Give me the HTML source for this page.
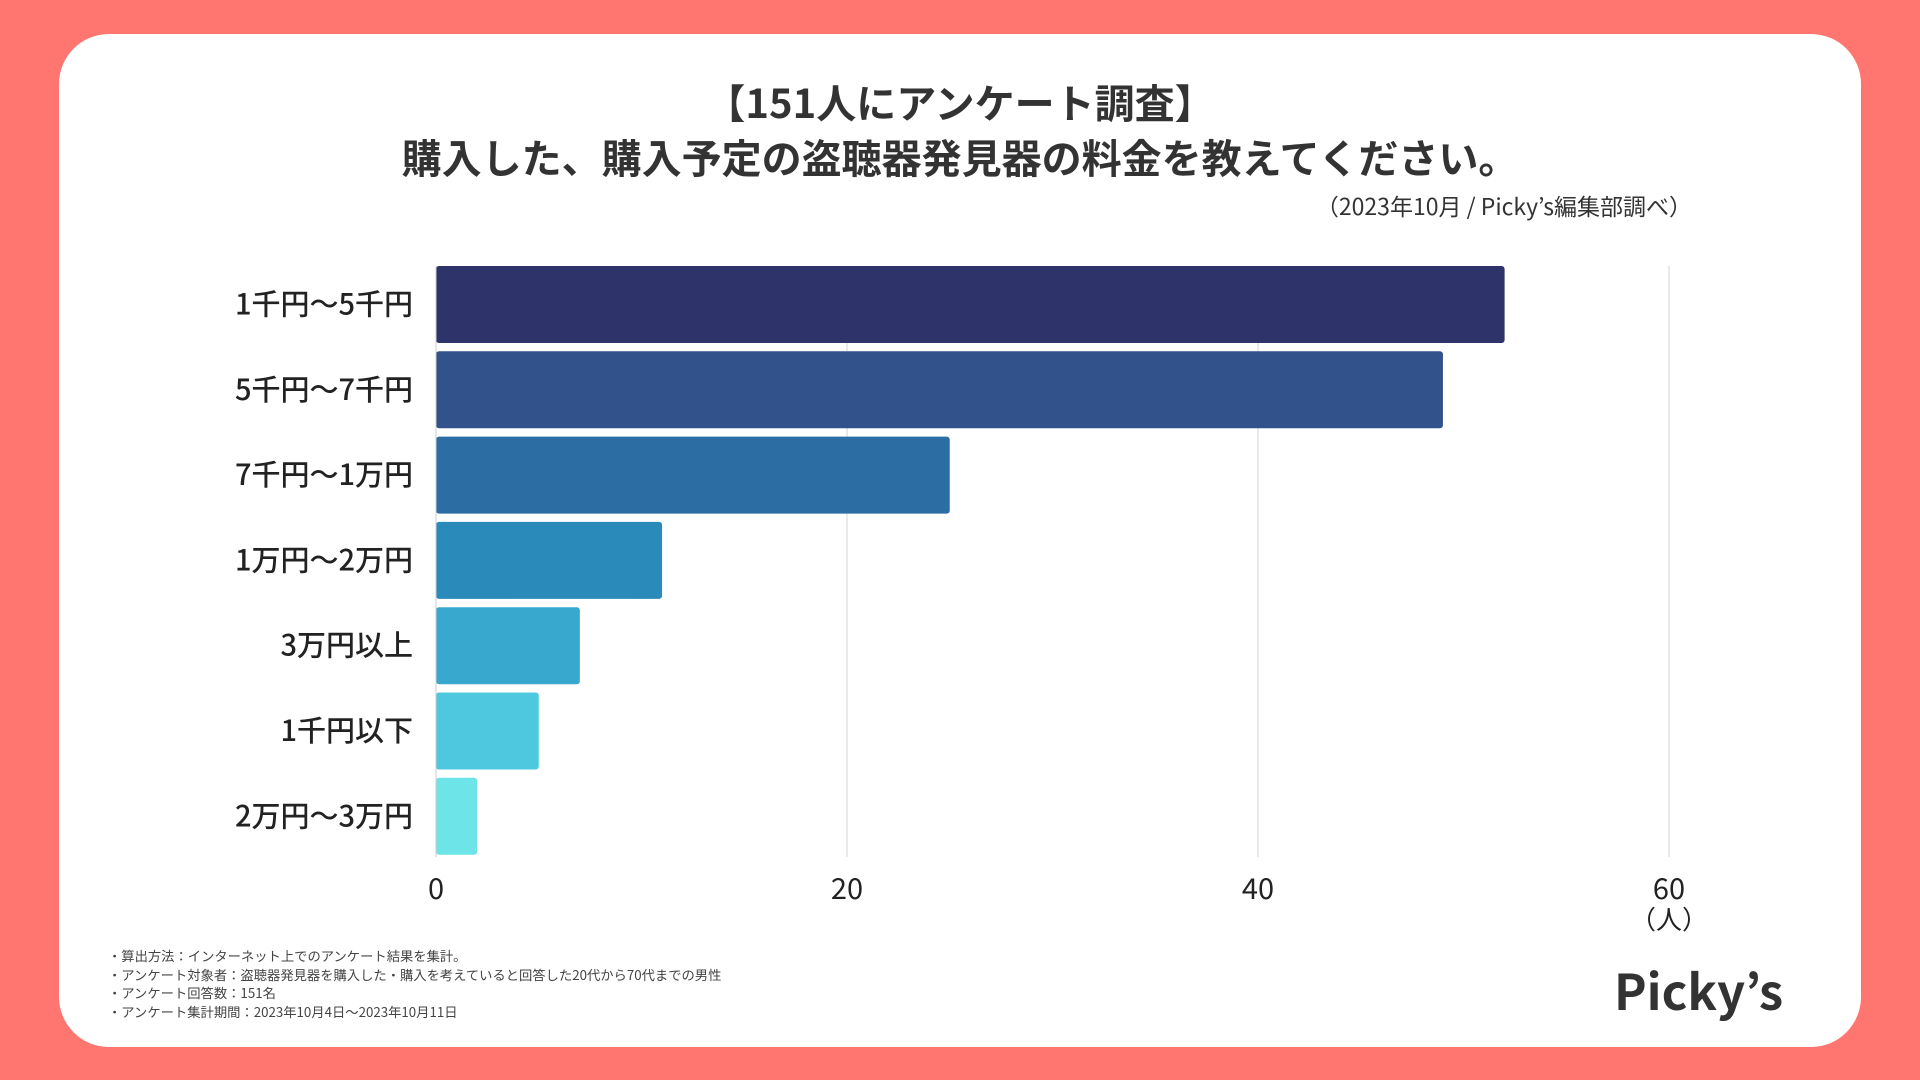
<!DOCTYPE html>
<html><head><meta charset="utf-8"><style>
body{margin:0;width:1920px;height:1080px;background:#ff7670;font-family:"Noto Sans CJK JP","Liberation Sans",sans-serif;overflow:hidden}
#card{position:absolute;left:59px;top:34px;width:1802px;height:1013px;background:#fff;border-radius:50px}
.t{position:absolute;color:#333;white-space:nowrap}
</style></head><body>
<div id="card"></div>
<div class="t" style="left:0;width:1920px;top:74px;text-align:center;font-size:40px;font-weight:bold;line-height:55px">【151人にアンケート調査】<br>購入した、購入予定の盗聴器発見器の料金を教えてください。</div>
<div class="t" style="right:228px;top:191px;font-size:23px;line-height:28px">（2023年10月 / Picky’s編集部調べ）</div>
<svg id="chart" width="1920" height="1080" style="position:absolute;left:0;top:0;font-family:'Noto Sans CJK JP','Liberation Sans',sans-serif"></svg>
<div class="t" style="left:108px;top:947px;font-size:13.3px;line-height:18.5px;color:#444">・算出方法：インターネット上でのアンケート結果を集計。<br>・アンケート対象者：盗聴器発見器を購入した・購入を考えていると回答した20代から70代までの男性<br>・アンケート回答数：151名<br>・アンケート集計期間：2023年10月4日〜2023年10月11日</div>
<div class="t" style="left:1614px;top:954px;font-size:49px;font-weight:bold;color:#333">Picky’s</div>
<script>
const categories=["1千円〜5千円","5千円〜7千円","7千円〜1万円","1万円〜2万円","3万円以上","1千円以下","2万円〜3万円"];
const values=[52,49,25,11,7,5,2];
const ticks=[0,20,40,60];
const colors=["#2e3369","#31528b","#2c6ea4","#2a8bbb","#38a8ce","#4dc8de","#6ce4e8"];
const svg=document.getElementById('chart');const NS="http://www.w3.org/2000/svg";
const x0=436,x1=1669,xmax=60,top0=266,pitch=85.3,bh=77;
const X=v=>x0+(x1-x0)*v/xmax;const Y=i=>top0+i*pitch;
function mk(t,a){const e=document.createElementNS(NS,t);for(const k in a)e.setAttribute(k,a[k]);svg.appendChild(e);return e;}
ticks.forEach(t=>{if(t>0){const l=mk('line',{x1:X(t),x2:X(t),y1:266,y2:857,stroke:'#e2e2e2','stroke-width':1.5});

}
const tx=mk('text',{x:X(t),y:899,'text-anchor':'middle','font-size':29,fill:'#222'});tx.textContent=t;

});
const u=mk('text',{x:X(60),y:929,'text-anchor':'middle','font-size':26,fill:'#222'});u.textContent='（人）';


categories.forEach((c,i)=>{const r=mk('rect',{x:x0,y:Y(i),width:X(values[i])-x0,height:bh,rx:3,fill:colors[i]});


const t=mk('text',{x:413,y:Y(i)+bh/2+10,'text-anchor':'end','font-size':29,'font-weight':500,fill:'#222'});t.textContent=c;

});
const ax=mk('line',{x1:x0,x2:x0,y1:266,y2:857,stroke:'#ccc','stroke-width':1});


</script>
</body></html>
